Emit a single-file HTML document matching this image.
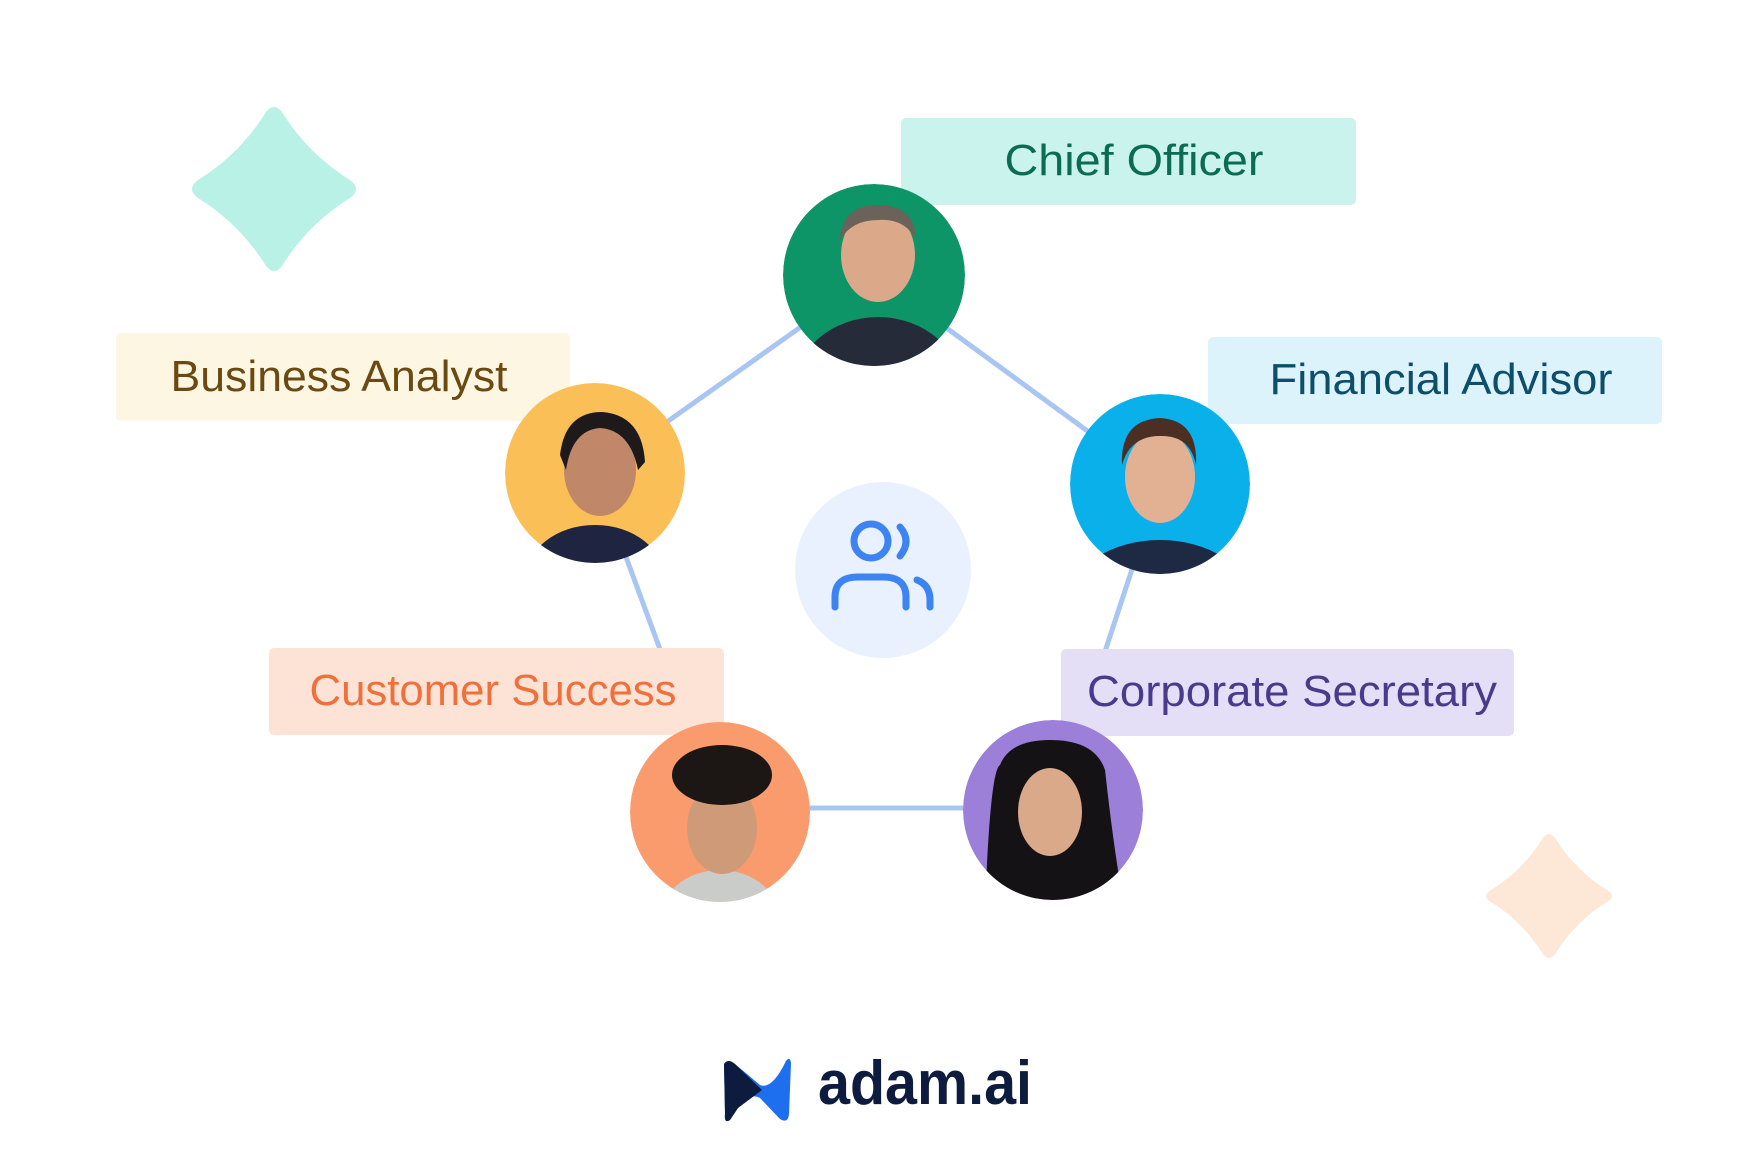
<!DOCTYPE html>
<html><head><meta charset="utf-8"><style>
html,body{margin:0;padding:0;background:#fff;width:1751px;height:1168px;overflow:hidden}
text{font-family:"Liberation Sans",sans-serif}
</style></head><body>
<svg width="1751" height="1168" viewBox="0 0 1751 1168" xmlns="http://www.w3.org/2000/svg">
<rect width="1751" height="1168" fill="#fff"/>
<!-- diamonds -->
<path d="M266 112 Q274 102 282 112 Q308 154 350 180 Q362 189 350 198 Q308 224 282 266 Q274 276 266 266 Q240 224 198 198 Q186 189 198 180 Q240 154 266 112Z" fill="#b9f1e6"/>
<path d="M1543 838 Q1549 830 1555 838 Q1576 871 1607 890 Q1617 896 1607 902 Q1576 921 1555 954 Q1549 962 1543 954 Q1522 921 1491 902 Q1481 896 1491 890 Q1522 871 1543 838Z" fill="#fde7d7"/>
<!-- lines -->
<g stroke="#a8c5f4" stroke-width="5" fill="none">
<line x1="874" y1="275" x2="595" y2="473"/>
<line x1="874" y1="275" x2="1160" y2="484"/>
<line x1="595" y1="473" x2="720" y2="812"/>
<line x1="1160" y1="484" x2="1053" y2="810"/>
<line x1="720" y1="808" x2="1053" y2="808"/>
</g>
<!-- labels -->
<rect x="901" y="118" width="455" height="87" rx="5" fill="#c9f3ec"/>
<text x="1134" y="175" font-size="44" fill="#0b6b53" text-anchor="middle" textLength="259" lengthAdjust="spacingAndGlyphs">Chief Officer</text>
<rect x="116" y="333" width="454" height="88" rx="5" fill="#fdf6e3"/>
<rect x="1208" y="337" width="454" height="87" rx="5" fill="#ddf3fc"/>
<rect x="269" y="648" width="455" height="87" rx="5" fill="#fde3d5"/>
<rect x="1061" y="649" width="453" height="87" rx="5" fill="#e4dff7"/>
<!-- circles -->
<defs>
<clipPath id="c1"><circle cx="874" cy="275" r="91"/></clipPath>
<clipPath id="c2"><circle cx="595" cy="473" r="90"/></clipPath>
<clipPath id="c3"><circle cx="1160" cy="484" r="90"/></clipPath>
<clipPath id="c4"><circle cx="720" cy="812" r="90"/></clipPath>
<clipPath id="c5"><circle cx="1053" cy="810" r="90"/></clipPath>
</defs>
<g clip-path="url(#c1)"><circle cx="874" cy="275" r="91" fill="#0d9467"/><ellipse cx="878" cy="392" rx="85" ry="75" fill="#262b3a"/><ellipse cx="878" cy="255" rx="37" ry="47" fill="#dba88a"/><path d="M840 240 Q842 205 878 205 Q915 205 916 240 Q905 218 878 220 Q852 220 840 240Z" fill="#6b625a"/></g>
<g clip-path="url(#c2)"><circle cx="595" cy="473" r="90" fill="#fbbf57"/><ellipse cx="595" cy="580" rx="70" ry="55" fill="#1f2540"/><ellipse cx="600" cy="470" rx="36" ry="46" fill="#c08868"/><path d="M560 455 Q565 412 602 412 Q642 415 645 462 L638 470 Q630 430 600 428 Q572 430 566 470Z" fill="#1e1a1c"/></g>
<g clip-path="url(#c3)"><circle cx="1160" cy="484" r="90" fill="#0ab0ea"/><ellipse cx="1160" cy="600" rx="90" ry="60" fill="#1e2a44"/><ellipse cx="1160" cy="477" rx="35" ry="46" fill="#e2b092"/><path d="M1122 465 Q1120 420 1160 418 Q1198 420 1196 465 Q1190 435 1160 436 Q1130 436 1122 465Z" fill="#4a2f22"/></g>
<g clip-path="url(#c4)"><circle cx="720" cy="812" r="90" fill="#f99b6d"/><ellipse cx="720" cy="920" rx="60" ry="50" fill="#c9ccc9"/><ellipse cx="722" cy="828" rx="35" ry="46" fill="#cf9a78"/><ellipse cx="722" cy="775" rx="50" ry="30" fill="#1c1614"/></g>
<g clip-path="url(#c5)"><circle cx="1053" cy="810" r="90" fill="#9b7fd9"/><path d="M985 910 Q990 770 1000 765 Q1010 740 1050 740 Q1095 740 1105 770 Q1115 860 1125 910Z" fill="#141214"/><ellipse cx="1050" cy="812" rx="32" ry="44" fill="#d9a98a"/></g>
<!-- label texts -->
<text x="339" y="391" font-size="44" fill="#6b4a12" text-anchor="middle" textLength="337" lengthAdjust="spacingAndGlyphs">Business Analyst</text>
<text x="1441" y="394" font-size="44" fill="#0d4f6b" text-anchor="middle" textLength="343" lengthAdjust="spacingAndGlyphs">Financial Advisor</text>
<text x="493" y="705" font-size="44" fill="#f0703c" text-anchor="middle" textLength="367" lengthAdjust="spacingAndGlyphs">Customer Success</text>
<text x="1292" y="706" font-size="44" fill="#4b3a8c" text-anchor="middle" textLength="410" lengthAdjust="spacingAndGlyphs">Corporate Secretary</text>
<!-- center -->
<circle cx="883" cy="570" r="88" fill="#e8f1fd"/>
<g stroke="#3d83f2" stroke-width="7" fill="none" stroke-linecap="round">
<circle cx="871" cy="541" r="17"/>
<path d="M900 527 Q912 541 900 556"/>
<path d="M835 607 L835 597 Q835 577 858 577 L883 577 Q906 577 906 597 L906 607"/>
<path d="M917 580 Q930 585 930 600 L930 607"/>
</g>
<!-- logo -->
<path d="M724 1064 Q728 1058 735 1064 L760 1085 Q772 1090 786 1061 Q790 1056 791 1063 L789 1114 Q788 1124 780 1119 L760 1098 Q750 1092 738 1108 L730 1120 Q724 1124 725 1114Z" fill="#1e6ef0"/>
<path d="M724 1064 Q728 1058 735 1064 L762 1090 L738 1108 L730 1120 Q724 1124 725 1114Z" fill="#0d1b3e"/>
<text x="818" y="1104" font-size="62" font-weight="bold" fill="#0d1b3e" textLength="214" lengthAdjust="spacingAndGlyphs">adam.ai</text>
</svg>
</body></html>
